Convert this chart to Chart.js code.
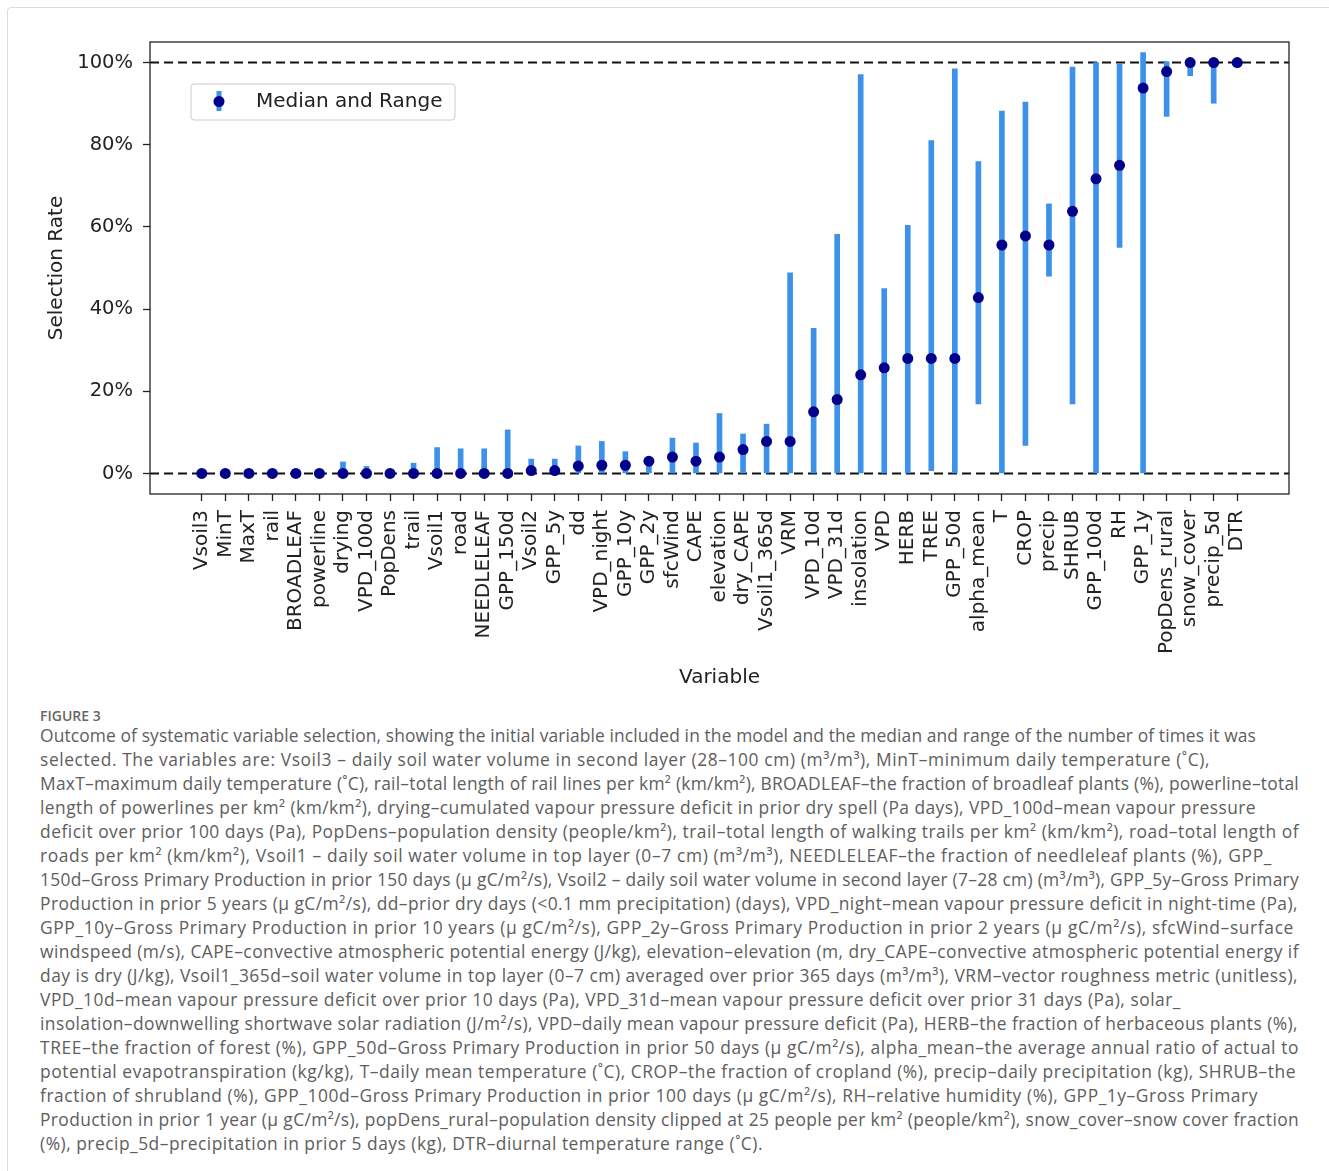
<!DOCTYPE html>
<html>
<head>
<meta charset="utf-8">
<script src="https://cdn.jsdelivr.net/npm/chart.js@4.4.0/dist/chart.umd.min.js"></script>
<style>
  html, body { margin: 0; padding: 0; background: #fff; overflow: hidden; }
  body { width: 1329px; height: 1171px; position: relative; }
  #frame { position: absolute; left: 7px; top: 7px; width: 1400px; height: 1300px;
           border: 1px solid #dcdcdc; border-radius: 4px; }
  #chart { position: absolute; left: 0; top: 0; }
  #fig { position: absolute; left: 40px; top: 707px; font: 600 14px "Open Sans", sans-serif;
         color: #666; line-height: 18px; }
  #caption { position: absolute; left: 40px; top: 723px; font: 17.4px "Open Sans", sans-serif;
             color: #5e5e5e; line-height: 24px; }
  #caption span { display: block; white-space: nowrap; }
</style>
</head>
<body>
<div id="frame"></div>
<canvas id="chart" width="1329" height="700"></canvas>
<div id="fig">FIGURE 3</div>
<div id="caption"></div>
<script>
const variables = ['Vsoil3', 'MinT', 'MaxT', 'rail', 'BROADLEAF', 'powerline', 'drying', 'VPD_100d',
  'PopDens', 'trail', 'Vsoil1', 'road', 'NEEDLELEAF', 'GPP_150d', 'Vsoil2', 'GPP_5y', 'dd',
  'VPD_night', 'GPP_10y', 'GPP_2y', 'sfcWind', 'CAPE', 'elevation', 'dry_CAPE', 'Vsoil1_365d',
  'VRM', 'VPD_10d', 'VPD_31d', 'insolation', 'VPD', 'HERB', 'TREE', 'GPP_50d', 'alpha_mean', 'T',
  'CROP', 'precip', 'SHRUB', 'GPP_100d', 'RH', 'GPP_1y', 'PopDens_rural', 'snow_cover',
  'precip_5d', 'DTR'];

const medianRate = [0, 0, 0, 0, 0, 0, 0, 0, 0, 0, 0, 0, 0, 0, 0.7, 0.7, 1.8,
  2, 2, 3, 4, 3, 4, 5.8, 7.8, 7.8, 15, 18, 24, 25.7, 28, 28, 28, 42.8, 55.6,
  57.8, 55.6, 63.8, 71.7, 75, 93.8, 97.8, 100, 100, 100];

const rangeLow = [0, 0, 0, 0, 0, 0, 0, 0, 0, 0, 0, 0, 0, 0, 0, 0, 0,
  0, 0, 0, 0, 0, 0, 0, 0, 0, 0, 0, 0, 0, 0, 0.7, 0, 16.9, 0,
  6.8, 48, 16.9, 0, 55, 0, 86.9, 96.8, 90.1, 100];

const rangeHigh = [0, 0, 0, 0, 0, 0, 2.8, 1.7, 0, 2.5, 6.3, 6, 6, 10.6, 3.5, 3.5, 6.7,
  7.8, 5.3, 3, 8.6, 7.4, 14.6, 9.6, 12, 48.8, 35.3, 58.2, 97.1, 45, 60.4, 81, 98.5, 75.9, 88.2,
  90.4, 65.6, 98.9, 100, 99.7, 102.4, 100.2, 100, 100, 100];

const yTicks = [0, 20, 40, 60, 80, 100];
const refLines = [0, 100];
const xMin = -2.2, xMax = 46.2;

const captionLines = [
  'Outcome of systematic variable selection, showing the initial variable included in the model and the median and range of the number of times it was',
  'selected. The variables are: Vsoil3 – daily soil water volume in second layer (28–100 cm) (m³/m³), MinT–minimum daily temperature (˚C),',
  'MaxT–maximum daily temperature (˚C), rail–total length of rail lines per km² (km/km²), BROADLEAF–the fraction of broadleaf plants (%), powerline–total',
  'length of powerlines per km² (km/km²), drying–cumulated vapour pressure deficit in prior dry spell (Pa days), VPD_100d–mean vapour pressure',
  'deficit over prior 100 days (Pa), PopDens–population density (people/km²), trail–total length of walking trails per km² (km/km²), road–total length of',
  'roads per km² (km/km²), Vsoil1 – daily soil water volume in top layer (0–7 cm) (m³/m³), NEEDLELEAF–the fraction of needleleaf plants (%), GPP_',
  '150d–Gross Primary Production in prior 150 days (µ gC/m²/s), Vsoil2 – daily soil water volume in second layer (7–28 cm) (m³/m³), GPP_5y–Gross Primary',
  'Production in prior 5 years (µ gC/m²/s), dd–prior dry days (<0.1 mm precipitation) (days), VPD_night–mean vapour pressure deficit in night-time (Pa),',
  'GPP_10y–Gross Primary Production in prior 10 years (µ gC/m²/s), GPP_2y–Gross Primary Production in prior 2 years (µ gC/m²/s), sfcWind–surface',
  'windspeed (m/s), CAPE–convective atmospheric potential energy (J/kg), elevation–elevation (m, dry_CAPE–convective atmospheric potential energy if',
  'day is dry (J/kg), Vsoil1_365d–soil water volume in top layer (0–7 cm) averaged over prior 365 days (m³/m³), VRM–vector roughness metric (unitless),',
  'VPD_10d–mean vapour pressure deficit over prior 10 days (Pa), VPD_31d–mean vapour pressure deficit over prior 31 days (Pa), solar_',
  'insolation–downwelling shortwave solar radiation (J/m²/s), VPD–daily mean vapour pressure deficit (Pa), HERB–the fraction of herbaceous plants (%),',
  'TREE–the fraction of forest (%), GPP_50d–Gross Primary Production in prior 50 days (µ gC/m²/s), alpha_mean–the average annual ratio of actual to',
  'potential evapotranspiration (kg/kg), T–daily mean temperature (˚C), CROP–the fraction of cropland (%), precip–daily precipitation (kg), SHRUB–the',
  'fraction of shrubland (%), GPP_100d–Gross Primary Production in prior 100 days (µ gC/m²/s), RH–relative humidity (%), GPP_1y–Gross Primary',
  'Production in prior 1 year (µ gC/m²/s), popDens_rural–population density clipped at 25 people per km² (people/km²), snow_cover–snow cover fraction',
  '(%), precip_5d–precipitation in prior 5 days (kg), DTR–diurnal temperature range (˚C).'
];
// right edge of each caption line in the figure (page px)
const captionEnds = [1256, 1210, 1299, 1256, 1299, 1272, 1299, 1298, 1294, 1299, 1298, 1181,
  1298, 1299, 1296, 1258, 1299, 763];

const cap = document.getElementById('caption');
captionLines.forEach(t => {
  const s = document.createElement('span');
  s.textContent = t;
  cap.appendChild(s);
});
// stretch or squeeze each line to its width in the figure
[...cap.children].forEach((s, i) => {
  s.style.display = 'inline-block';
  const w = s.getBoundingClientRect().width;
  const n = captionLines[i].length;
  const target = captionEnds[i] - 40;
  s.style.letterSpacing = ((target - w) / n) + 'px';
  s.style.display = 'block';
});

Chart.defaults.font.family = 'DejaVu Sans';
Chart.defaults.font.size = 19.5;
Chart.defaults.color = '#222';

const blue = 'rgb(61,145,235)';
const navy = '#00008b';

const frameBox = {
  id: 'frameBox',
  afterDraw(chart) {
    const { ctx, chartArea: a } = chart;
    ctx.save();
    ctx.strokeStyle = '#222';
    ctx.lineWidth = 1.3;
    ctx.strokeRect(a.left, a.top, a.right - a.left, a.bottom - a.top);

    // legend box in the upper left
    const lx = a.left + 41, ly = a.top + 42, lw = 264, lh = 36;
    ctx.fillStyle = 'rgba(255,255,255,0.85)';
    ctx.strokeStyle = '#cccccc';
    ctx.lineWidth = 1;
    ctx.beginPath();
    ctx.roundRect(lx, ly, lw, lh, 3);
    ctx.fill();
    ctx.stroke();
    ctx.fillStyle = blue;
    ctx.fillRect(lx + 25.5, ly + 7, 5, 20);
    ctx.fillStyle = navy;
    ctx.beginPath();
    ctx.arc(lx + 28, ly + 17.5, 5.5, 0, Math.PI * 2);
    ctx.fill();
    ctx.fillStyle = '#222';
    ctx.font = '20px "DejaVu Sans"';
    ctx.textBaseline = 'middle';
    ctx.fillText('Median and Range', lx + 65, ly + 18);
    ctx.restore();
  }
};

const lineData = refLines.map(v => ({
  type: 'line',
  data: [{ x: xMin, y: v }, { x: xMax, y: v }],
  borderColor: '#111',
  borderWidth: 2,
  borderDash: [9, 5],
  pointRadius: 0,
  order: 3
}));

new Chart(document.getElementById('chart'), {
  type: 'bar',
  data: {
    datasets: [
      ...lineData,
      {
        type: 'bar',
        label: 'Median and Range',
        data: variables.map((v, i) => ({ x: i, y: [rangeLow[i], rangeHigh[i]] })),
        backgroundColor: blue,
        barThickness: 5,
        borderSkipped: false,
        order: 2
      },
      {
        type: 'scatter',
        data: variables.map((v, i) => ({ x: i, y: medianRate[i] })),
        backgroundColor: navy,
        borderWidth: 0,
        pointRadius: 5.5,
        order: 1
      }
    ]
  },
  options: {
    responsive: false,
    animation: false,
    layout: { padding: { top: 42, right: 40, left: 0, bottom: 0 } },
    plugins: { legend: { display: false }, tooltip: { enabled: false } },
    scales: {
      x: {
        type: 'linear',
        offset: false,
        min: xMin,
        max: xMax,
        afterBuildTicks: s => { s.ticks = variables.map((v, i) => ({ value: i })); },
        afterFit: s => { s.height = 700 - 494; },
        ticks: {
          autoSkip: false,
          maxRotation: 90,
          minRotation: 90,
          padding: 9,
          font: { size: 20 },
          callback: v => variables[v]
        },
        grid: { offset: false, drawOnChartArea: false, tickLength: 7, tickColor: '#222', tickWidth: 1.3 },
        border: { display: false },
        title: { display: true, text: 'Variable', font: { size: 20 }, padding: { top: 0, bottom: 10 } }
      },
      y: {
        min: -5,
        max: 105,
        afterBuildTicks: s => { s.ticks = yTicks.map(v => ({ value: v })); },
        afterFit: s => { s.width = 150; },
        ticks: { padding: 10, callback: v => v + '%' },
        grid: { drawOnChartArea: false, tickLength: 7, tickColor: '#222', tickWidth: 1.3 },
        border: { display: false },
        title: { display: true, text: 'Selection Rate', font: { size: 20 }, padding: { top: 45, bottom: 0 } }
      }
    }
  },
  plugins: [frameBox]
});
</script>
</body>
</html>
